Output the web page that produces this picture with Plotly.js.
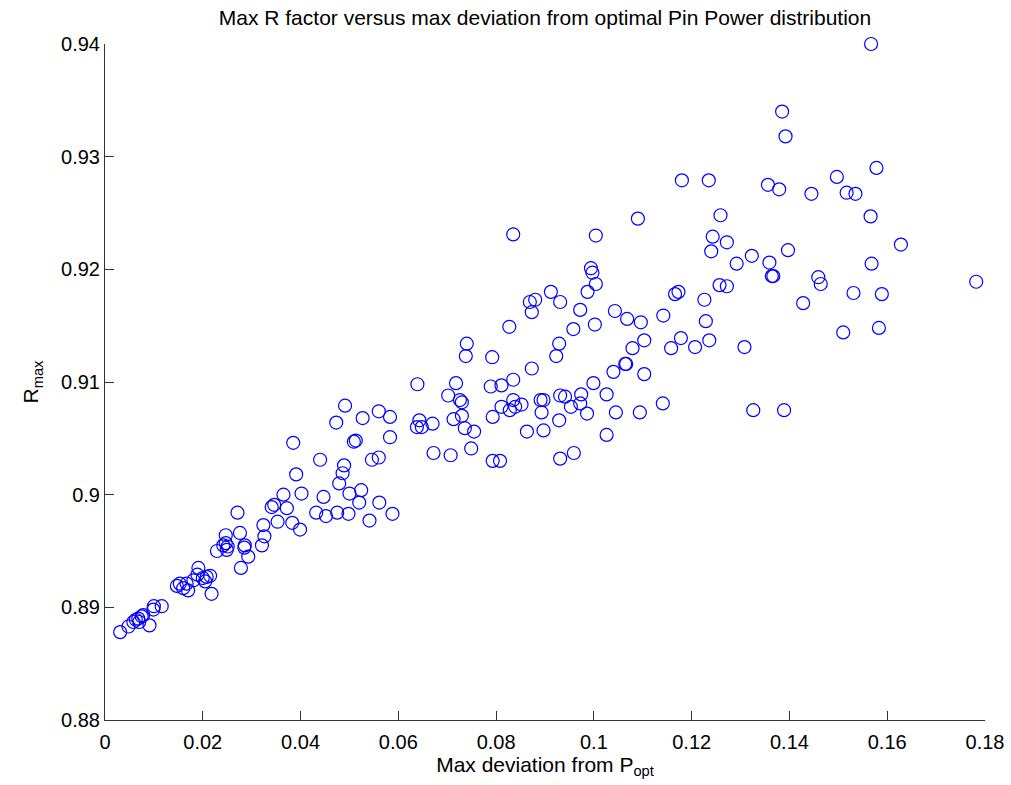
<!DOCTYPE html>
<html>
<head>
<meta charset="utf-8">
<script src="https://cdn.plot.ly/plotly-3.0.1.min.js"></script>
<style>html,body{margin:0;padding:0;background:#fff;}#chart{width:1011px;height:785px;}</style>
</head>
<body>
<div id="chart"></div>
<script>
// Max deviation from P_opt (x) and R_max (y)
const maxDeviation = [
  0.0031,0.0048,0.0058,0.0063,0.0068,0.0075,0.0070,0.0091,0.0099,0.0100,
  0.0116,0.0078,0.0147,0.0153,0.0167,0.0170,0.0160,0.0181,0.0191,0.0189,
  0.0200,0.0208,0.0215,0.0218,0.0205,0.0271,0.0229,0.0247,0.0242,0.0247,
  0.0251,0.0249,0.0276,0.0286,0.0285,0.0293,0.0278,0.0324,0.0326,0.0321,
  0.0341,0.0346,0.0353,0.0365,0.0372,0.0383,0.0399,0.0402,0.0491,0.0473,
  0.0527,0.0560,0.0583,0.0509,0.0513,0.0583,0.0385,0.0440,0.0489,0.0486,
  0.0546,0.0560,0.0391,0.0479,0.0500,0.0524,0.0520,0.0447,0.0561,0.0588,
  0.0432,0.0452,0.0475,0.0498,0.0541,0.0827,0.0958,0.1002,0.0740,0.0738,
  0.0792,0.0929,0.0923,0.0873,0.0639,0.0718,0.0702,0.0726,0.0730,0.0789,
  0.0811,0.0835,0.0999,0.0713,0.0730,0.0736,0.0755,0.0643,0.0638,0.0648,
  0.0670,0.0793,0.0811,0.0828,0.0835,0.0839,0.0852,0.0891,0.0897,0.0893,
  0.0863,0.0897,0.0929,0.0931,0.0941,0.0953,0.0972,0.0974,0.0986,0.0672,
  0.0707,0.0749,0.0793,0.0808,0.0931,0.0959,0.0835,0.0912,0.0931,0.0869,
  0.0880,0.0873,0.0972,0.1004,0.0994,0.0997,0.1004,0.0987,0.1043,0.1068,
  0.1096,0.1142,0.1166,0.1173,0.1226,0.1229,0.1236,0.1178,0.1158,0.1207,
  0.1308,0.1103,0.1079,0.1064,0.1066,0.1040,0.1103,0.1026,0.1045,0.1094,
  0.1141,0.1026,0.1326,0.1389,0.1090,0.1243,0.1272,0.1240,0.1292,0.1323,
  0.1359,0.1364,0.1367,0.1257,0.1272,0.1567,0.1385,0.1392,0.1180,0.1235,
  0.1356,0.1379,0.1445,0.1497,0.1517,0.1535,0.1578,0.1566,0.1259,0.1628,
  0.1568,0.1397,0.1459,0.1464,0.1428,0.1531,0.1589,0.1782,0.1510,0.1583
];
const rMax = [
  0.8878,0.8883,0.8887,0.8889,0.8890,0.8892,0.8887,0.8884,0.8898,0.8901,
  0.8901,0.8893,0.8919,0.8921,0.8921,0.8915,0.8917,0.8924,0.8935,0.8929,
  0.8926,0.8927,0.8928,0.8912,0.8923,0.8984,0.8950,0.8964,0.8955,0.8957,
  0.8954,0.8951,0.8966,0.8955,0.8953,0.8945,0.8935,0.8973,0.8963,0.8955,
  0.8989,0.8991,0.8976,0.9000,0.8988,0.8975,0.8969,0.9001,0.9079,0.9064,
  0.9068,0.9074,0.9069,0.9047,0.9048,0.9051,0.9046,0.9031,0.9026,0.9019,
  0.9031,0.9033,0.9018,0.9010,0.9001,0.9004,0.8993,0.8998,0.8993,0.8983,
  0.8984,0.8981,0.8984,0.8983,0.8977,0.9149,0.9147,0.9151,0.9134,0.9123,
  0.9122,0.9134,0.9123,0.9112,0.9098,0.9099,0.9088,0.9084,0.9082,0.9096,
  0.9097,0.9102,0.9099,0.9067,0.9070,0.9059,0.9056,0.9066,0.9060,0.9060,
  0.9063,0.9069,0.9078,0.9075,0.9084,0.9078,0.9080,0.9084,0.9084,0.9073,
  0.9056,0.9057,0.9066,0.9088,0.9087,0.9078,0.9081,0.9089,0.9072,0.9037,
  0.9035,0.9041,0.9030,0.9030,0.9032,0.9037,0.9231,0.9180,0.9171,0.9171,
  0.9173,0.9162,0.9164,0.9230,0.9201,0.9197,0.9187,0.9180,0.9163,0.9156,
  0.9153,0.9159,0.9178,0.9180,0.9173,0.9154,0.9137,0.9139,0.9130,0.9131,
  0.9131,0.9137,0.9130,0.9116,0.9116,0.9109,0.9107,0.9089,0.9073,0.9073,
  0.9081,0.9053,0.9075,0.9075,0.9245,0.9229,0.9224,0.9216,0.9205,0.9212,
  0.9206,0.9194,0.9194,0.9186,0.9185,0.9400,0.9340,0.9318,0.9279,0.9279,
  0.9275,0.9271,0.9267,0.9282,0.9268,0.9267,0.9290,0.9247,0.9248,0.9222,
  0.9205,0.9217,0.9193,0.9187,0.9170,0.9179,0.9178,0.9189,0.9144,0.9148
];
const xTickVals = [0,0.02,0.04,0.06,0.08,0.1,0.12,0.14,0.16,0.18];
const yTickVals = [0.88,0.89,0.9,0.91,0.92,0.93,0.94];
const chartTitle = "Max R factor versus max deviation from optimal Pin Power distribution";
const xTitle = "Max deviation from P<sub>opt</sub>";
const yTitle = "R<sub>max</sub>";

const font = "Liberation Sans, Arial, Helvetica, sans-serif";

Plotly.newPlot("chart", [{
  type: "scatter",
  mode: "markers",
  x: maxDeviation,
  y: rMax,
  cliponaxis: false,
  marker: {symbol: "circle-open", size: 13, color: "#0000ff", line: {width: 1.2, color: "#0000ff"}},
  hoverinfo: "x+y"
}], {
  width: 1011, height: 785,
  paper_bgcolor: "#ffffff", plot_bgcolor: "#ffffff",
  margin: {l: 105, r: 26, t: 44, b: 65, pad: 0},
  showlegend: false,
  font: {family: font, size: 20, color: "#000"},
  title: {text: chartTitle, x: 0.5, xref: "paper", xanchor: "center", y: 0.978, yref: "container", yanchor: "middle",
          font: {family: font, size: 21, color: "#000"}},
  xaxis: {
    range: [0, 0.18], tickvals: xTickVals, showgrid: false, zeroline: false,
    showline: true, linecolor: "#333", linewidth: 1, mirror: false,
    ticks: "inside", ticklen: 9, tickwidth: 1, tickcolor: "#333",
    ticklabelstandoff: 4,
    tickfont: {family: font, size: 20, color: "#000"},
    title: {text: xTitle, font: {family: font, size: 21, color: "#000"}, standoff: 2}
  },
  yaxis: {
    range: [0.88, 0.94], tickvals: yTickVals, showgrid: false, zeroline: false,
    showline: true, linecolor: "#333", linewidth: 1, mirror: false,
    ticks: "inside", ticklen: 9, tickwidth: 1, tickcolor: "#333",
    tickfont: {family: font, size: 20, color: "#000"},
    title: {text: yTitle, font: {family: font, size: 21, color: "#000"}, standoff: 16}
  }
}, {displayModeBar: false, staticPlot: true});
</script>
</body>
</html>
